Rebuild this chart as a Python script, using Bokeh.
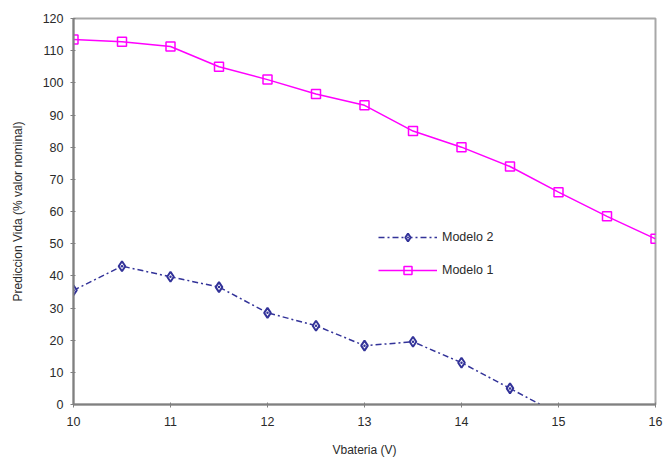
from bokeh.plotting import figure
from bokeh.models import ColumnDataSource, Legend, LegendItem, FixedTicker, Range1d
from bokeh.embed import file_html
from bokeh.resources import INLINE

# Data
vbat = [10, 10.5, 11, 11.5, 12, 12.5, 13, 13.5, 14, 14.5, 15, 15.5, 16]
modelo1 = [113.5, 112.8, 111.3, 105.0, 101.0, 96.5, 93.0, 85.0, 80.0, 74.0, 66.0, 58.5, 51.5]
vbat2 = [10, 10.5, 11, 11.5, 12, 12.5, 13, 13.5, 14, 14.5, 15]
modelo2 = [35.5, 43.0, 39.7, 36.5, 28.5, 24.5, 18.3, 19.5, 13.0, 5.0, -3.0]
x_ticks = [10, 11, 12, 13, 14, 15, 16]
y_ticks = [0, 10, 20, 30, 40, 50, 60, 70, 80, 90, 100, 110, 120]

FONT = "Liberation Sans"
TXT = "#2a2a2a"

p = figure(width=664, height=462, output_backend="svg", toolbar_location=None,
           x_range=Range1d(10, 16), y_range=Range1d(0, 120),
           min_border_left=73, min_border_right=9, min_border_top=18, min_border_bottom=58)
p.background_fill_color = "white"
p.border_fill_color = "white"
p.outline_line_color = "#a8a8a8"
p.outline_line_width = 2
p.xgrid.visible = False
p.ygrid.visible = False

for ax in (p.xaxis[0], p.yaxis[0]):
    ax.axis_line_color = "#808080"
    ax.axis_line_width = 2
    ax.major_tick_line_color = "#808080"
    ax.major_tick_in = 2
    ax.major_tick_out = 3
    ax.minor_tick_line_color = None
    ax.major_label_text_font = FONT
    ax.major_label_text_font_size = "12.5px"
    ax.major_label_text_color = TXT
    ax.axis_label_text_font = FONT
    ax.axis_label_text_font_size = "12px"
    ax.axis_label_text_font_style = "normal"
    ax.axis_label_text_color = TXT

p.xaxis.ticker = FixedTicker(ticks=x_ticks)
p.yaxis.ticker = FixedTicker(ticks=y_ticks)
p.xaxis.axis_label = "Vbateria (V)"
p.yaxis.axis_label = "Prediccion Vida (% valor nominal)"
p.xaxis.major_label_standoff = 9
p.xaxis.axis_label_standoff = 14
p.yaxis.major_label_standoff = 7
p.yaxis.axis_label_standoff = 15

src1 = ColumnDataSource(dict(x=vbat, y=modelo1))
src2 = ColumnDataSource(dict(x=vbat2, y=modelo2))

c1 = "#ff00ff"
c2 = "#333399"

l2 = p.line("x", "y", source=src2, line_color=c2, line_width=1.5, line_dash="6 3 2 3")
m2 = p.scatter("x", "y", source=src2, marker="diamond_dot", size=10,
               fill_color="white", line_color=c2, line_width=2)
l1 = p.line("x", "y", source=src1, line_color=c1, line_width=1.5)
m1 = p.scatter("x", "y", source=src1, marker="square", size=9, fill_color="white",
               fill_alpha=0.0, line_color=c1, line_width=1.5)

legend = Legend(items=[LegendItem(label="Modelo 2", renderers=[l2, m2]),
                       LegendItem(label="Modelo 1", renderers=[l1, m1])],
                location=(305, 124), glyph_width=59, glyph_height=20, spacing=13,
                label_standoff=5, padding=0, margin=0, border_line_color=None,
                background_fill_alpha=0.0,
                label_text_font=FONT, label_text_font_size="12.5px", label_text_color=TXT)
p.add_layout(legend)

open("out.html", "w").write(file_html(p, INLINE))
